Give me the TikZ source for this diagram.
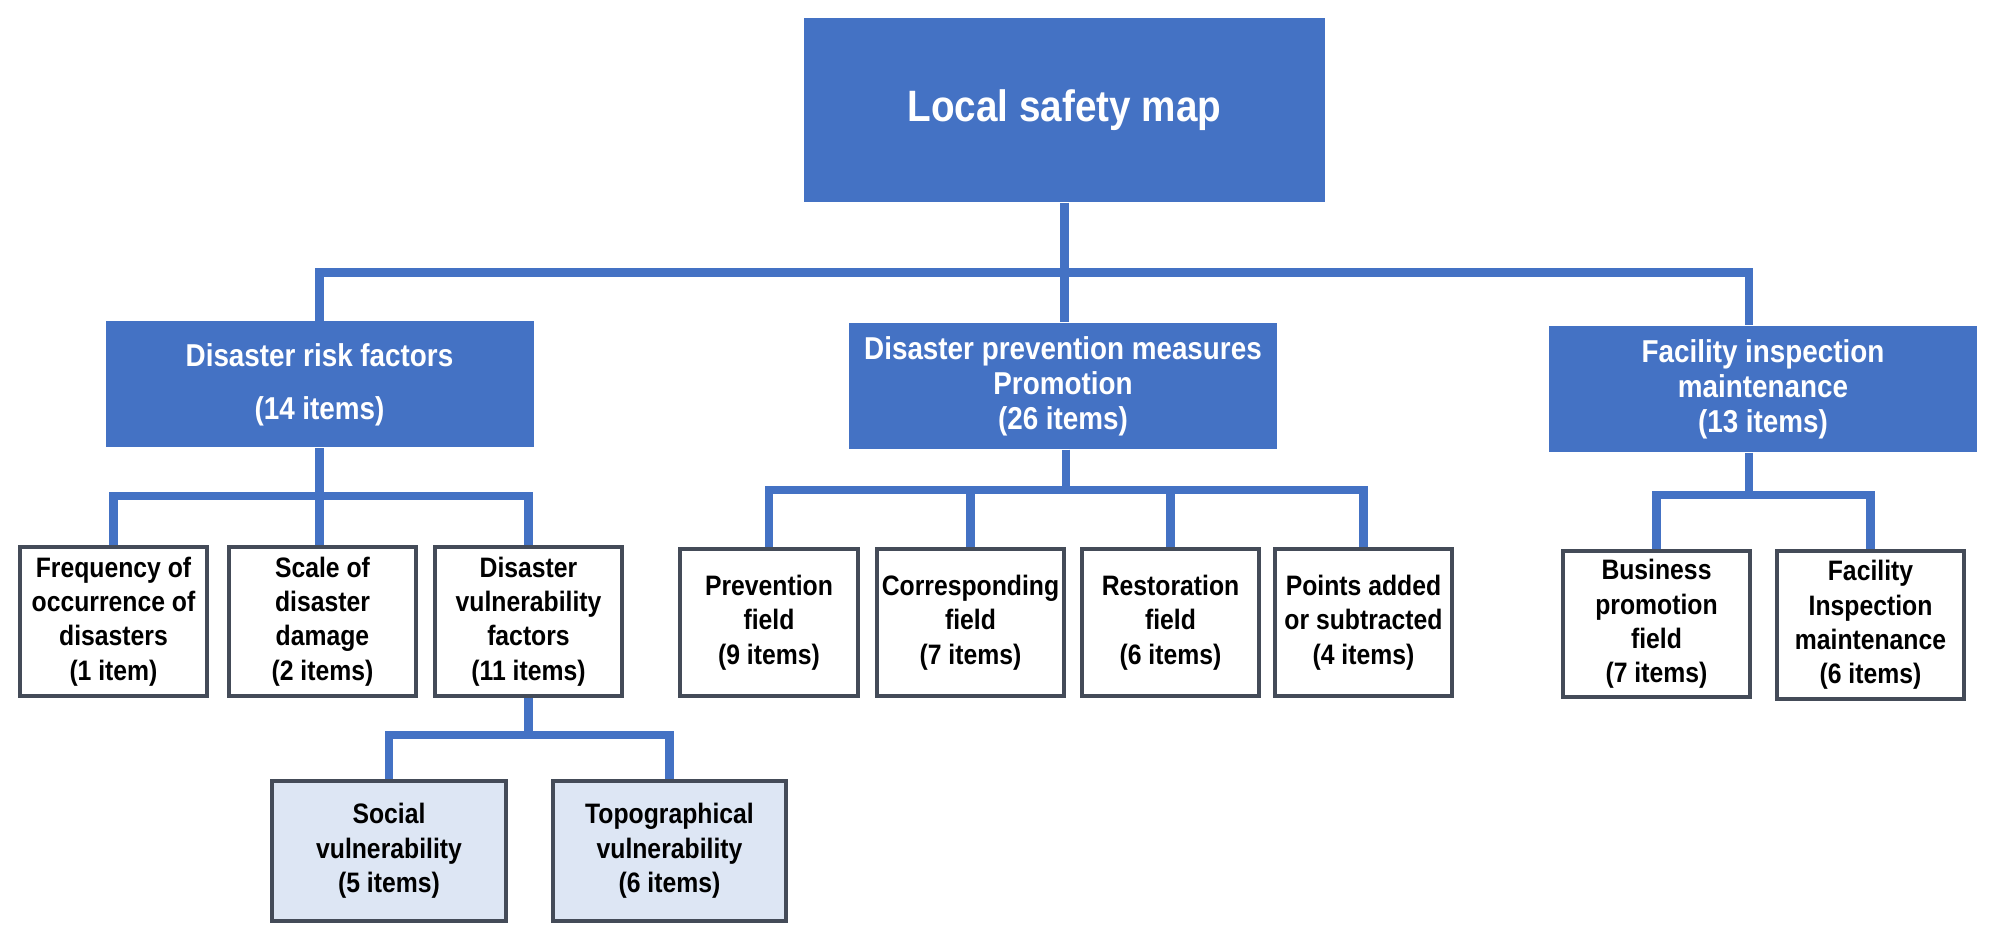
\documentclass[tikz,border=0pt]{standalone}
\usepackage{fontspec}
\setmainfont{Liberation Sans}[FakeStretch=0.88]
\usepackage{tikz}
\definecolor{mapblue}{HTML}{4472C4}
\definecolor{boxedge}{HTML}{444B58}
\definecolor{paleblue}{HTML}{DDE6F4}
\tikzset{
  font={\fontsize{8pt}{9.8pt}\selectfont\bfseries}}

\begin{document}
\begin{tikzpicture}
\tikzstyle{every node}+=[inner sep=0pt, align=center]
\tikzstyle{topbox}=[fill=mapblue, text=white, minimum width=5.21cm, minimum height=1.84cm, font={\fontsize{12.5pt}{14pt}\selectfont\bfseries}]
\tikzstyle{midbox}=[fill=mapblue, text=white, minimum width=4.28cm, minimum height=1.26cm, font={\fontsize{9pt}{10pt}\selectfont\bfseries}]
\tikzstyle{leafbox}=[draw=boxedge, line width=1.1pt, fill=white, minimum width=1.87cm, minimum height=1.49cm]
\tikzstyle{subbox}=[leafbox, fill=paleblue, minimum width=2.34cm, minimum height=1.4cm]
\tikzstyle{link}=[draw=mapblue, line width=2.5pt]
\useasboundingbox (0,0) rectangle (20.08,-9.36);
% top
\node [topbox] (root) at (10.645,-1.10) {Local safety map};
% second row
\node [midbox] (drf) at (3.195,-3.845) {Disaster risk factors\\[5pt](14 items)};
\node [midbox] (dpm) at (10.63,-3.86) {Disaster prevention measures\\Promotion\\(26 items)};
\node [midbox] (fim) at (17.63,-3.89) {Facility inspection\\maintenance\\(13 items)};
% third row
\node [leafbox] (freq) at (1.135,-6.215) {Frequency of\\occurrence of\\disasters\\(1 item)};
\node [leafbox] (scale) at (3.225,-6.215) {Scale of\\disaster\\damage\\(2 items)};
\node [leafbox] (dvf) at (5.285,-6.215) {Disaster\\vulnerability\\factors\\(11 items)};
\node [leafbox, minimum width=1.78cm, minimum height=1.47cm] (prev) at (7.69,-6.225) {Prevention\\field\\(9 items)};
\node [leafbox, minimum height=1.47cm] (corr) at (9.705,-6.225) {Corresponding\\field\\(7 items)};
\node [leafbox, minimum width=1.77cm, minimum height=1.47cm] (rest) at (11.705,-6.225) {Restoration\\field\\(6 items)};
\node [leafbox, minimum width=1.77cm, minimum height=1.47cm] (pts) at (13.635,-6.225) {Points added\\or subtracted\\(4 items)};
\node [leafbox, minimum height=1.46cm] (bus) at (16.565,-6.24) {Business\\promotion\\field\\(7 items)};
\node [leafbox, minimum height=1.48cm] (fac) at (18.705,-6.25) {Facility\\Inspection\\maintenance\\(6 items)};
% fourth row
\node [subbox] (soc) at (3.89,-8.51) {Social\\vulnerability\\(5 items)};
\node [subbox, minimum width=2.33cm] (topo) at (6.695,-8.51) {Topographical\\vulnerability\\(6 items)};
% links
\draw [link] (root.south) -- (root.south |- dpm.north);
\draw [link] (drf.north) -- ++(0,0.48) -| ([xshift=-0.14cm]fim.north);
\draw [link] (freq.north) -- ++(0,0.49) -| (dvf.north);
\draw [link] (drf.south) -- (drf.south |- scale.north);
\draw [link] (prev.north) -- ++(0,0.57) -| (pts.north);
\foreach \n in {corr,rest}
  \draw [link] (\n.north) -- ++(0,0.57);
\draw [link] ([xshift=0.03cm]dpm.south) -- ++(0,-0.43);
\draw [link] (bus.north) -- ++(0,0.54) -| (fac.north);
\draw [link] ([xshift=-0.14cm]fim.south) -- ++(0,-0.45);
\draw [link] (soc.north) -- ++(0,0.44) -| (topo.north);
\draw [link] (dvf.south) -- ++(0,-0.40);
\end{tikzpicture}
\end{document}
